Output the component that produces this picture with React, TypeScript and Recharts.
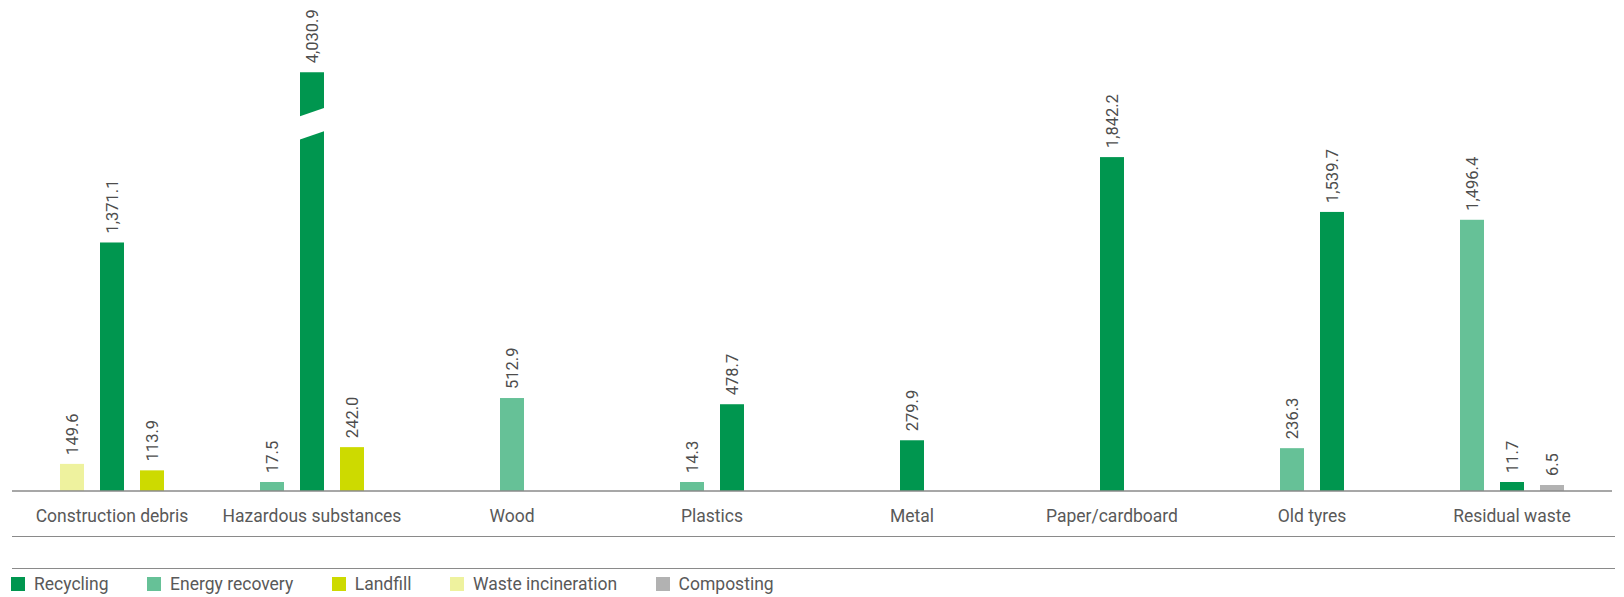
import React from "react";
import { BarChart, Bar, XAxis, YAxis, Cell, LabelList } from "recharts";

const categories = [
  "Construction debris",
  "Hazardous substances",
  "Wood",
  "Plastics",
  "Metal",
  "Paper/cardboard",
  "Old tyres",
  "Residual waste",
];

const recycling = [1371.1, 4030.9, null, 478.7, 279.9, 1842.2, 1539.7, 11.7];
const energyRecovery = [null, 17.5, 512.9, 14.3, null, null, 236.3, 1496.4];
const landfill = [113.9, 242.0, null, null, null, null, null, null];
const wasteIncineration = [149.6, null, null, null, null, null, null, null];
const composting = [null, null, null, null, null, null, null, 6.5];

// legend order
const series = [
  { name: "Recycling", color: "#00964f", values: recycling },
  { name: "Energy recovery", color: "#66c197", values: energyRecovery },
  { name: "Landfill", color: "#cdda00", values: landfill },
  { name: "Waste incineration", color: "#eef29e", values: wasteIncineration },
  { name: "Composting", color: "#b2b2b2", values: composting },
];

// order of the bars inside a category, left to right
const slotOrder = ["Waste incineration", "Energy recovery", "Recycling", "Landfill", "Composting"];

const BAR_STEP = 0.2; // distance between bars, in category widths
const BREAK_VALUE = 2310; // bars taller than this get an axis break

const rows = categories.flatMap((cat, i) => {
  const present = slotOrder
    .map((n) => series.find((s) => s.name === n)!)
    .filter((s) => s.values[i] != null);
  return present.map((s, j) => ({
    cat,
    x: i + 0.5 + (j - (present.length - 1) / 2) * BAR_STEP,
    value: s.values[i] as number,
    color: s.color,
  }));
});

const FONT = "Roboto, 'Liberation Sans', Arial, sans-serif";
const LINE = "#8a8a8a";

function fmt(v: number) {
  return v.toLocaleString("en-US", { minimumFractionDigits: 1, maximumFractionDigits: 1 });
}

// tiny values are kept visible
function minHeight(v: number) {
  return v >= 10 ? 9 : 6;
}

function BrokenBar(props: any) {
  const { x, y, width, height, payload } = props;
  const fill = payload.color;
  if (payload.value <= BREAK_VALUE) {
    return <rect x={x} y={y} width={width} height={height} fill={fill} />;
  }
  const b = y + height;
  const r = x + width;
  const top = `${x},${y} ${r},${y} ${r},${y + 35.6} ${x},${y + 44}`;
  const bottom = `${x},${y + 67.3} ${r},${y + 59} ${r},${b} ${x},${b}`;
  return (
    <g>
      <polygon points={top} fill={fill} />
      <polygon points={bottom} fill={fill} />
    </g>
  );
}

function ValueLabel(props: any) {
  const vb = props.viewBox ?? props;
  const { x, y, width } = vb;
  if (props.value == null) return null;
  const cx = x + width / 2 + 6;
  const ty = y - 9;
  return (
    <text
      x={cx}
      y={ty}
      transform={`rotate(-90 ${cx} ${ty})`}
      textAnchor="start"
      fill="#4d4d4d"
      fontSize={16.5}
      fontFamily={FONT}
    >
      {fmt(props.value)}
    </text>
  );
}

function CatTick({ x, y, payload }: any) {
  return (
    <text x={x} y={y + 30.5} textAnchor="middle" fill="#595959" fontSize={17.5} fontFamily={FONT}>
      {categories[Math.floor(payload.value)]}
    </text>
  );
}

export default function App() {
  return (
    <div style={{ position: "relative", width: 1624, height: 597, background: "#fff" }}>
      <style>{"body{margin:0}"}</style>
      <BarChart width={1624} height={597} data={rows} margin={{ top: 56, right: 12, left: 12, bottom: 61 }}>
        <XAxis
          type="number"
          dataKey="x"
          domain={[0, 8]}
          ticks={categories.map((_, i) => i + 0.5)}
          interval={0}
          tick={<CatTick />}
          tickLine={false}
          tickSize={0}
          tickMargin={0}
          height={45}
          axisLine={{ stroke: LINE, strokeWidth: 1.5 }}
        />
        <YAxis hide type="number" domain={[0, 2400]} />
        <Bar
          dataKey={(r: any) => Math.min(r.value, BREAK_VALUE)}
          barSize={24}
          minPointSize={minHeight}
          shape={<BrokenBar />}
          isAnimationActive={false}
        >
          {rows.map((r, i) => (
            <Cell key={i} fill={r.color} />
          ))}
          <LabelList dataKey="value" content={<ValueLabel />} />
        </Bar>
      </BarChart>
      <div style={{ position: "absolute", left: 12, width: 1603, top: 535.5, height: 1.5, background: LINE }} />
      <div style={{ position: "absolute", left: 12, width: 1603, top: 567.5, height: 1.5, background: LINE }} />
      <div
        style={{
          position: "absolute",
          left: 11,
          top: 577,
          display: "flex",
          alignItems: "center",
          gap: 38.5,
          fontFamily: FONT,
          fontSize: 17.5,
          lineHeight: "14px",
          color: "#595959",
        }}
      >
        {series.map((s) => (
          <div key={s.name} style={{ display: "flex", alignItems: "center", gap: 9 }}>
            <span style={{ width: 14, height: 14, background: s.color, display: "inline-block" }} />
            <span>{s.name}</span>
          </div>
        ))}
      </div>
    </div>
  );
}
